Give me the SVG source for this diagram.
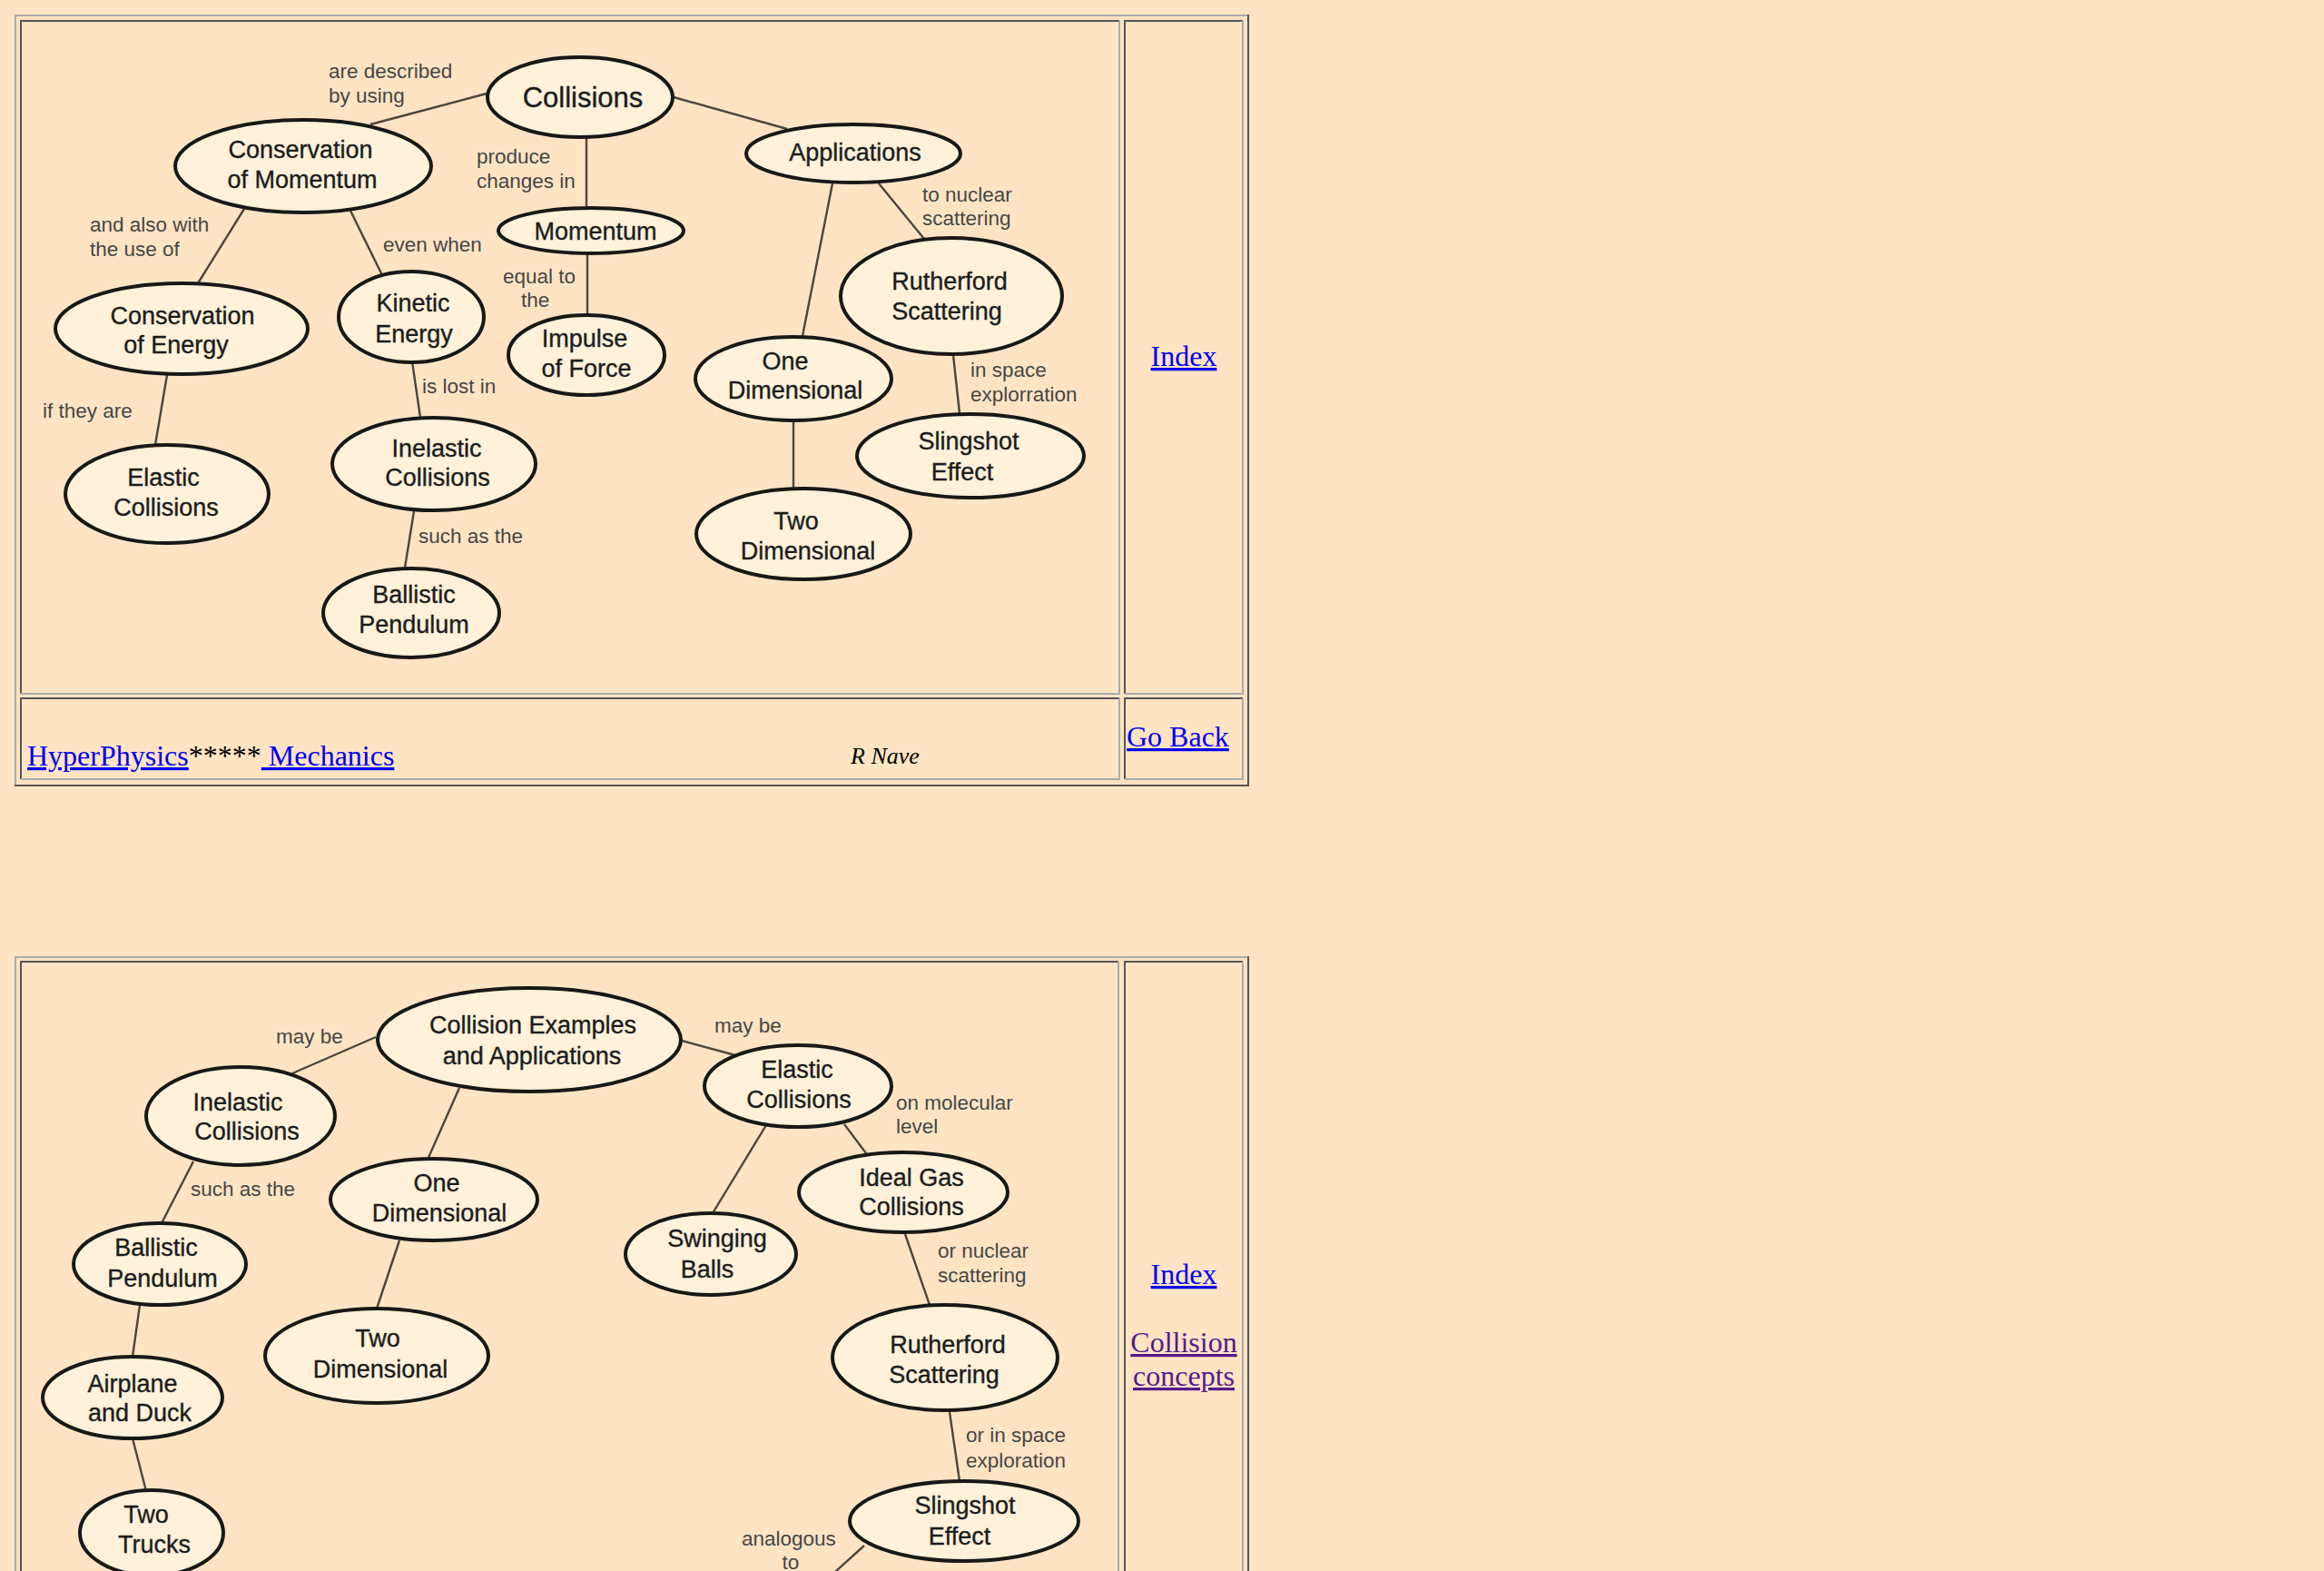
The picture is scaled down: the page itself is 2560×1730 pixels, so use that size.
<svg xmlns="http://www.w3.org/2000/svg" width="2560" height="1730" viewBox="0 0 2560 1730">
<style>
.bg{fill:#FFE4C4}
.lt{stroke:#ABABAB;stroke-width:2;fill:none}
.dk{stroke:#555555;stroke-width:2;fill:none}
.node ellipse{fill:#FFF1DA;stroke:#181818;stroke-width:4}
.node text{font-family:"Liberation Sans",Arial,Helvetica,sans-serif;font-size:27px;fill:#1c1c1c;stroke:#1c1c1c;stroke-width:0.35;text-anchor:middle}
.cn line{stroke:#4d453c;stroke-width:2.4}
.lb{font-family:"Liberation Sans",Arial,Helvetica,sans-serif;font-size:22.5px;fill:#464646}
.html{font-family:"Liberation Serif","Times New Roman",serif;font-size:32px}
.a{fill:#0000EE;text-decoration:underline}
.v{fill:#551A8B;text-decoration:underline}
</style>
<rect class="bg" x="0" y="0" width="2560" height="1730"/>

<g id="table-top">
  <path class="lt" d="M16 17 H1376 M17 16 V865"/>
  <path class="dk" d="M16 865 H1376 M1375 16 V865"/>
  <path class="dk" d="M23 764 V23 H1233"/>
  <path class="lt" d="M1233 23 V764 H23"/>
  <path class="dk" d="M1239 764 V23 H1369"/>
  <path class="lt" d="M1369 23 V764 H1239"/>
  <path class="dk" d="M23 858 V769 H1233"/>
  <path class="lt" d="M1233 769 V858 H23"/>
  <path class="dk" d="M1239 858 V769 H1369"/>
  <path class="lt" d="M1369 769 V858 H1239"/>
</g>
<g id="table-bottom">
  <path class="lt" d="M16 1054 H1376 M17 1053 V1730"/>
  <path class="dk" d="M1375 1053 V1730"/>
  <path class="dk" d="M23 1730 V1059 H1232"/>
  <path class="lt" d="M1232 1059 V1730"/>
  <path class="dk" d="M1239 1730 V1059 H1369"/>
  <path class="lt" d="M1369 1059 V1730"/>
</g>

<g id="connectors" class="cn">
  <line x1="536" y1="103" x2="408" y2="137"/>
  <line x1="646" y1="151" x2="646" y2="229"/>
  <line x1="742" y1="107" x2="867" y2="142"/>
  <line x1="647" y1="279" x2="647" y2="347"/>
  <line x1="269" y1="230" x2="218" y2="312"/>
  <line x1="386" y1="232" x2="421" y2="303"/>
  <line x1="184" y1="413" x2="171" y2="490"/>
  <line x1="454" y1="398" x2="463" y2="460"/>
  <line x1="456" y1="563" x2="446" y2="625"/>
  <line x1="917" y1="202" x2="884" y2="370"/>
  <line x1="968" y1="202" x2="1018" y2="263"/>
  <line x1="1050" y1="391" x2="1057" y2="455"/>
  <line x1="874" y1="463" x2="874" y2="538"/>
  <line x1="414" y1="1142" x2="322" y2="1182"/>
  <line x1="506" y1="1198" x2="471" y2="1277"/>
  <line x1="751" y1="1146" x2="810" y2="1162"/>
  <line x1="213" y1="1279" x2="178" y2="1347"/>
  <line x1="440" y1="1366" x2="415" y2="1441"/>
  <line x1="154" y1="1437" x2="146" y2="1494"/>
  <line x1="146" y1="1584" x2="161" y2="1642"/>
  <line x1="844" y1="1239" x2="785" y2="1336"/>
  <line x1="930" y1="1238" x2="954" y2="1270"/>
  <line x1="997" y1="1359" x2="1024" y2="1437"/>
  <line x1="1046" y1="1555" x2="1057" y2="1631"/>
  <line x1="952" y1="1702" x2="910" y2="1740"/>
</g>

<g id="labels">
  <text class="lb" x="362" y="86">are described</text>
  <text class="lb" x="362" y="113">by using</text>
  <text class="lb" x="525" y="180">produce</text>
  <text class="lb" x="525" y="207">changes in</text>
  <text class="lb" x="99" y="255">and also with</text>
  <text class="lb" x="99" y="282">the use of</text>
  <text class="lb" x="422" y="277">even when</text>
  <text class="lb" x="554" y="312">equal to</text>
  <text class="lb" x="574" y="338">the</text>
  <text class="lb" x="465" y="433">is lost in</text>
  <text class="lb" x="47" y="460">if they are</text>
  <text class="lb" x="461" y="598">such as the</text>
  <text class="lb" x="1016" y="222">to nuclear</text>
  <text class="lb" x="1016" y="248">scattering</text>
  <text class="lb" x="1069" y="415">in space</text>
  <text class="lb" x="1069" y="442">explorration</text>
  <text class="lb" x="304" y="1149">may be</text>
  <text class="lb" x="787" y="1137">may be</text>
  <text class="lb" x="210" y="1317">such as the</text>
  <text class="lb" x="987" y="1222">on molecular</text>
  <text class="lb" x="987" y="1248">level</text>
  <text class="lb" x="1033" y="1385">or nuclear</text>
  <text class="lb" x="1033" y="1412">scattering</text>
  <text class="lb" x="1064" y="1588">or in space</text>
  <text class="lb" x="1064" y="1616">exploration</text>
  <text class="lb" x="817" y="1702">analogous</text>
  <text class="lb" x="871" y="1728" text-anchor="middle">to</text>
</g>

<g id="n-collisions" class="node"><ellipse cx="639" cy="107" rx="102" ry="44"/><text x="642" y="118" style="font-size:31px">Collisions</text></g>
<g id="n-cons-momentum" class="node"><ellipse cx="334" cy="183" rx="141" ry="51"/><text x="331" y="174">Conservation</text><text x="333" y="207">of Momentum</text></g>
<g id="n-cons-energy" class="node"><ellipse cx="200" cy="362" rx="139" ry="50"/><text x="201" y="357">Conservation</text><text x="194" y="389">of Energy</text></g>
<g id="n-kinetic" class="node"><ellipse cx="453" cy="349" rx="80" ry="50"/><text x="455" y="343">Kinetic</text><text x="456" y="377">Energy</text></g>
<g id="n-momentum" class="node"><ellipse cx="651" cy="254" rx="102" ry="25"/><text x="656" y="264">Momentum</text></g>
<g id="n-impulse" class="node"><ellipse cx="646" cy="391" rx="86" ry="44"/><text x="644" y="382">Impulse</text><text x="646" y="415">of Force</text></g>
<g id="n-applications" class="node"><ellipse cx="940" cy="169" rx="118" ry="32"/><text x="942" y="177">Applications</text></g>
<g id="n-rutherford" class="node"><ellipse cx="1048" cy="326" rx="122" ry="64"/><text x="1046" y="319">Rutherford</text><text x="1043" y="352">Scattering</text></g>
<g id="n-one-dim" class="node"><ellipse cx="874" cy="417" rx="108" ry="46"/><text x="865" y="407">One</text><text x="876" y="439">Dimensional</text></g>
<g id="n-slingshot" class="node"><ellipse cx="1069" cy="502" rx="125" ry="46"/><text x="1067" y="495">Slingshot</text><text x="1060" y="529">Effect</text></g>
<g id="n-two-dim" class="node"><ellipse cx="885" cy="588" rx="118" ry="50"/><text x="877" y="583">Two</text><text x="890" y="616">Dimensional</text></g>
<g id="n-elastic" class="node"><ellipse cx="184" cy="544" rx="112" ry="54"/><text x="180" y="535">Elastic</text><text x="183" y="568">Collisions</text></g>
<g id="n-inelastic" class="node"><ellipse cx="478" cy="511" rx="112" ry="51"/><text x="481" y="503">Inelastic</text><text x="482" y="535">Collisions</text></g>
<g id="n-ballistic" class="node"><ellipse cx="453" cy="675" rx="97" ry="49"/><text x="456" y="664">Ballistic</text><text x="456" y="697">Pendulum</text></g>

<g id="n2-examples" class="node"><ellipse cx="583" cy="1145" rx="167" ry="57"/><text x="587" y="1138">Collision Examples</text><text x="586" y="1172">and Applications</text></g>
<g id="n2-inelastic" class="node"><ellipse cx="265" cy="1229" rx="104" ry="54"/><text x="262" y="1223">Inelastic</text><text x="272" y="1255">Collisions</text></g>
<g id="n2-one-dim" class="node"><ellipse cx="478" cy="1321" rx="114" ry="45"/><text x="481" y="1312">One</text><text x="484" y="1345">Dimensional</text></g>
<g id="n2-ballistic" class="node"><ellipse cx="176" cy="1392" rx="95" ry="45"/><text x="172" y="1383">Ballistic</text><text x="179" y="1417">Pendulum</text></g>
<g id="n2-two-dim" class="node"><ellipse cx="415" cy="1493" rx="123" ry="52"/><text x="416" y="1483">Two</text><text x="419" y="1517">Dimensional</text></g>
<g id="n2-airplane" class="node"><ellipse cx="146" cy="1539" rx="99" ry="45"/><text x="146" y="1533">Airplane</text><text x="154" y="1565">and Duck</text></g>
<g id="n2-trucks" class="node"><ellipse cx="167" cy="1688" rx="79" ry="47"/><text x="161" y="1677">Two</text><text x="170" y="1710">Trucks</text></g>
<g id="n2-elastic" class="node"><ellipse cx="879" cy="1196" rx="103" ry="45"/><text x="878" y="1187">Elastic</text><text x="880" y="1220">Collisions</text></g>
<g id="n2-ideal-gas" class="node"><ellipse cx="995" cy="1313" rx="115" ry="44"/><text x="1004" y="1306">Ideal Gas</text><text x="1004" y="1338">Collisions</text></g>
<g id="n2-swinging" class="node"><ellipse cx="783" cy="1381" rx="94" ry="45"/><text x="790" y="1373">Swinging</text><text x="779" y="1407">Balls</text></g>
<g id="n2-rutherford" class="node"><ellipse cx="1041" cy="1495" rx="124" ry="58"/><text x="1044" y="1490">Rutherford</text><text x="1040" y="1523">Scattering</text></g>
<g id="n2-slingshot" class="node"><ellipse cx="1062" cy="1675" rx="126" ry="44"/><text x="1063" y="1667">Slingshot</text><text x="1057" y="1701">Effect</text></g>

<g id="html-text">
  <text class="html" x="30" y="843"><tspan class="a">HyperPhysics</tspan><tspan fill="#000">*****</tspan><tspan class="a"> Mechanics</tspan></text>
  <text class="html" x="937" y="841" style="font-size:26px;font-style:italic" fill="#000">R Nave</text>
  <text class="html a" x="1241" y="822">Go Back</text>
  <text class="html a" x="1304" y="403" text-anchor="middle">Index</text>
  <text class="html a" x="1304" y="1414" text-anchor="middle">Index</text>
  <text class="html v" x="1304" y="1489" text-anchor="middle">Collision</text>
  <text class="html v" x="1304" y="1526" text-anchor="middle">concepts</text>
</g>
</svg>
